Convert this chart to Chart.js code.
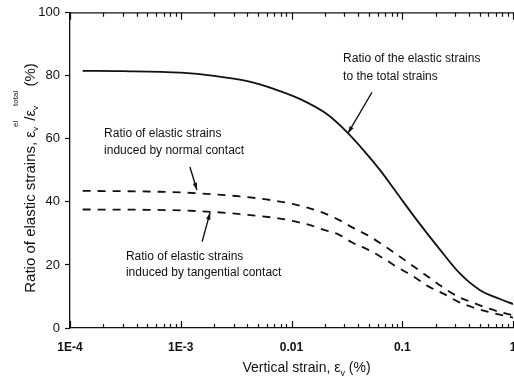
<!DOCTYPE html>
<html>
<head>
<meta charset="utf-8">
<script src="https://cdn.jsdelivr.net/npm/chart.js@4"></script>
<style>
  html, body { margin: 0; padding: 0; background: #fff; }
</style>
</head>
<body>
<canvas id="chart" width="514" height="385"></canvas>
<script>
// === DATOS ===
const strainTotal = [1.3e-4, 3e-4, 1e-3, 2e-3, 4e-3, 7e-3, 0.012, 0.021, 0.032, 0.045, 0.0633, 0.09, 0.135, 0.212, 0.331, 0.504, 0.763, 1.0];
const ratioTotal  = [81.6, 81.5, 81.0, 80.0, 78.3, 75.8, 72.6, 67.8, 62.0, 56.3, 50.0, 42.7, 34.3, 25.5, 17.3, 12.0, 9.2, 7.6];

const strainNormal = [1.3e-4, 5e-4, 1e-3, 2e-3, 4.85e-3, 7.6e-3, 0.0104, 0.0142, 0.0194, 0.0265, 0.035, 0.0494, 0.0667, 0.092, 0.126, 0.172, 0.235, 0.321, 0.438, 0.599, 0.79, 1.0];
const ratioNormal  = [43.5, 43.3, 43.0, 42.4, 41.2, 40.2, 39.3, 38.1, 36.5, 34.4, 32.0, 29.3, 26.4, 23.0, 19.6, 16.2, 12.8, 9.9, 8.0, 6.2, 4.95, 4.0];

const strainTangential = [1.3e-4, 5e-4, 1e-3, 2e-3, 4.85e-3, 7.6e-3, 0.0104, 0.0142, 0.0194, 0.0265, 0.035, 0.0494, 0.0667, 0.092, 0.126, 0.172, 0.235, 0.321, 0.438, 0.599, 0.79, 1.0];
const ratioTangential  = [37.6, 37.5, 37.3, 36.8, 35.6, 34.8, 33.9, 32.8, 31.2, 29.7, 27.2, 24.8, 22.2, 19.1, 16.4, 13.2, 10.9, 8.3, 6.5, 5.1, 4.1, 3.3];

const xTickValues = [1e-4, 1e-3, 0.01, 0.1, 1];
const xTickLabels = ["1E-4", "1E-3", "0.01", "0.1", "1"];
const yTickValues = [0, 20, 40, 60, 80, 100];

// notas: texto y flechas en coordenadas de datos
const notes = [
  { lines: ["Ratio of the elastic strains", "to the total strains"], x: 0.0292, y: [85.5, 79.8] },
  { lines: ["Ratio of elastic strains", "induced by normal contact"], x: 2.03e-4, y: [61.5, 56.2] },
  { lines: ["Ratio of elastic strains", "induced by tangential contact"], x: 3.2e-4, y: [22.5, 17.7] },
];
const arrows = [
  { from: [0.0533, 74.8], to: [0.0324, 61.8] },
  { from: [0.00121, 51.1], to: [0.0014, 43.8] },
  { from: [0.00156, 27.4], to: [0.00184, 36.6] },
];

const FONT = '"Liberation Sans", Arial, sans-serif';
const INK = "#111";

function toPoints(xs, ys) {
  return xs.map((x, i) => ({ x: x, y: ys[i] }));
}

// === DIBUJO EXTRA: ticks hacia dentro, borde superior, títulos, notas ===
function drawArrow(ctx, x1, y1, x2, y2) {
  ctx.beginPath();
  ctx.moveTo(x1, y1);
  ctx.lineTo(x2, y2);
  ctx.stroke();
  const ang = Math.atan2(y2 - y1, x2 - x1);
  const len = 7, w = 2.2;
  ctx.beginPath();
  ctx.moveTo(x2, y2);
  ctx.lineTo(x2 - len * Math.cos(ang) + w * Math.sin(ang), y2 - len * Math.sin(ang) - w * Math.cos(ang));
  ctx.lineTo(x2 - len * Math.cos(ang) - w * Math.sin(ang), y2 - len * Math.sin(ang) + w * Math.cos(ang));
  ctx.closePath();
  ctx.fill();
}

// partes: texto normal (string) o {t, pos: "sub" | "sup"}
function drawRich(ctx, parts, cx, cy, size, small, supOff, subOff) {
  const isPlain = (p) => typeof p === "string";
  const fontOf = (p) => (isPlain(p) ? size : small) + "px " + FONT;
  const textOf = (p) => (isPlain(p) ? p : p.t);
  const widthOf = (p) => { ctx.font = fontOf(p); return ctx.measureText(textOf(p)).width; };
  const total = parts.reduce((s, p) => s + widthOf(p), 0);
  let x = cx - total / 2;
  ctx.textAlign = "left";
  ctx.textBaseline = "alphabetic";
  parts.forEach((p) => {
    const w = widthOf(p);
    ctx.font = fontOf(p);
    let dy = 0;
    if (!isPlain(p)) dy = p.pos === "sup" ? supOff : subOff;
    ctx.fillText(textOf(p), x, cy + dy);
    x += w;
  });
}

const decorations = {
  id: "decorations",
  afterDraw(chart) {
    const { ctx, chartArea: a, scales: { x, y } } = chart;
    ctx.save();
    ctx.strokeStyle = INK;
    ctx.fillStyle = INK;
    ctx.lineWidth = 1.3;

    // borde superior
    ctx.beginPath();
    ctx.moveTo(a.left, a.top);
    ctx.lineTo(chart.width, a.top);
    ctx.stroke();

    // ticks del eje x (mayores y menores), abajo y arriba, hacia dentro
    ctx.lineWidth = 1.2;
    for (let d = -4; d <= 0; d++) {
      for (let m = 1; m <= 9; m++) {
        const v = m * Math.pow(10, d);
        if (v > 1.0001) break;
        const px = Math.round(x.getPixelForValue(v)) + 0.5;
        const len = m === 1 ? 7 : 4;
        ctx.beginPath();
        ctx.moveTo(px, a.bottom);
        ctx.lineTo(px, a.bottom - len);
        ctx.moveTo(px, a.top);
        ctx.lineTo(px, a.top + len);
        ctx.stroke();
      }
    }

    // notas
    ctx.font = "12px " + FONT;
    ctx.textAlign = "left";
    ctx.textBaseline = "middle";
    notes.forEach((n) => {
      const px = x.getPixelForValue(n.x);
      n.lines.forEach((t, i) => ctx.fillText(t, px, y.getPixelForValue(n.y[i])));
    });

    ctx.lineWidth = 1.4;
    arrows.forEach((ar) => {
      drawArrow(ctx,
        x.getPixelForValue(ar.from[0]), y.getPixelForValue(ar.from[1]),
        x.getPixelForValue(ar.to[0]), y.getPixelForValue(ar.to[1]));
    });

    // título eje x
    drawRich(ctx, ["Vertical strain, ε", { t: "v", pos: "sub" }, " (%)"], (a.left + a.right) / 2 + 15, 372, 14, 9, -8, 4);

    // título eje y
    ctx.save();
    ctx.translate(35, 178);
    ctx.rotate(-Math.PI / 2);
    drawRich(ctx, [
      "Ratio of elastic strains, ε", { t: "v", pos: "sub" }, { t: "el", pos: "sup" },
      "/ε", { t: "v", pos: "sub" }, { t: "total", pos: "sup" }, " (%)",
    ], 0, 0, 15, 8, -17, 3);
    ctx.restore();

    ctx.restore();
  },
};

// === GRÁFICO ===
new Chart(document.getElementById("chart"), {
  type: "line",
  data: {
    datasets: [
      {
        label: "Total",
        data: toPoints(strainTotal, ratioTotal),
        borderColor: INK,
        borderWidth: 1.8,
        pointRadius: 0,
        cubicInterpolationMode: "monotone",
      },
      {
        label: "Normal",
        data: toPoints(strainNormal, ratioNormal),
        borderColor: INK,
        borderWidth: 1.8,
        borderDash: [8, 7],
        pointRadius: 0,
        cubicInterpolationMode: "monotone",
      },
      {
        label: "Tangential",
        data: toPoints(strainTangential, ratioTangential),
        borderColor: INK,
        borderWidth: 1.8,
        borderDash: [8, 7],
        pointRadius: 0,
        cubicInterpolationMode: "monotone",
      },
    ],
  },
  options: {
    responsive: false,
    animation: false,
    layout: { padding: { top: 11, right: 1, left: 0, bottom: 0 } },
    plugins: { legend: { display: false }, tooltip: { enabled: false } },
    scales: {
      x: {
        type: "logarithmic",
        min: 1e-4,
        max: 1,
        afterBuildTicks: (s) => { s.ticks = xTickValues.map((v) => ({ value: v })); },
        afterFit: (s) => { s.height = 57; s.paddingLeft = 0; s.paddingRight = 0; },
        ticks: {
          autoSkip: false,
          maxRotation: 0,
          padding: 12,
          color: INK,
          font: { family: FONT, size: 12, weight: "bold" },
          callback: (v, i) => xTickLabels[i],
        },
        grid: { display: true, drawOnChartArea: false, drawTicks: false },
        border: { display: true, color: INK, width: 1.3 },
      },
      y: {
        min: 0,
        max: 100,
        afterBuildTicks: (s) => { s.ticks = yTickValues.map((v) => ({ value: v })); },
        afterFit: (s) => { s.width = 70; },
        ticks: {
          padding: 5,
          color: INK,
          font: { family: FONT, size: 13 },
        },
        grid: { display: true, drawOnChartArea: false, drawTicks: true, tickLength: 5, color: INK, tickWidth: 1.2 },
        border: { display: true, color: INK, width: 1.3 },
      },
    },
  },
  plugins: [decorations],
});
</script>
</body>
</html>
